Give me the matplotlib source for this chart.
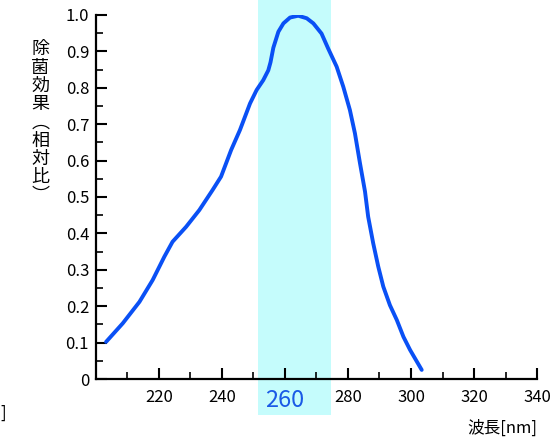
import matplotlib
matplotlib.use("Agg")
import matplotlib.pyplot as plt
from matplotlib.patches import Rectangle
from matplotlib.ticker import MultipleLocator, FuncFormatter

plt.rcParams['font.family'] = ['Noto Sans CJK JP', 'DejaVu Sans']

# curve
wavelength = [203.2, 208.5, 213.8, 218.0, 221.7, 224.3, 228.6, 232.8, 237.0, 239.7, 242.9,
              245.7, 248.9, 251.0, 253.1, 254.7, 255.4, 256.3, 257.9, 259.5, 261.6, 264.2,
              266.9, 269.0, 271.6, 273.7, 276.4, 278.5, 280.6, 282.2, 283.8, 285.4, 286.4,
              288.0, 289.6, 291.2, 293.3, 295.5, 297.6, 299.7, 303.4]
efficacy = [0.102, 0.153, 0.212, 0.272, 0.336, 0.377, 0.418, 0.464, 0.519, 0.556, 0.629,
            0.684, 0.757, 0.794, 0.821, 0.848, 0.870, 0.910, 0.954, 0.977, 0.993, 0.998,
            0.991, 0.977, 0.949, 0.908, 0.858, 0.803, 0.739, 0.675, 0.593, 0.515, 0.446,
            0.373, 0.309, 0.254, 0.203, 0.162, 0.116, 0.080, 0.025]
span_lo, span_hi = 251.3, 274.6
xticks = [220, 240, 260, 280, 300, 320, 340]
yticks = [0, 0.1, 0.2, 0.3, 0.4, 0.5, 0.6, 0.7, 0.8, 0.9, 1.0]

fig = plt.figure(figsize=(5.51, 4.37), dpi=100)
ax = fig.add_axes([0.1742, 0.1327, 0.8004, 0.833])

# highlighted band, runs past the axes
band = Rectangle((span_lo, -0.1), span_hi - span_lo, 1.15,
                 transform=ax.get_xaxis_transform(), facecolor='#c5fcfc',
                 edgecolor='none', clip_on=False, zorder=0)
ax.add_patch(band)

ax.plot(wavelength, efficacy, color='#0a50f5', lw=2.8, solid_capstyle='round',
        solid_joinstyle='round', zorder=3)

ax.set_xlim(200, 340)
ax.set_ylim(0, 1.0)
for s in ['top', 'right']:
    ax.spines[s].set_visible(False)
for s in ['left', 'bottom']:
    ax.spines[s].set_linewidth(1.6)
    ax.spines[s].set_zorder(4)

ax.xaxis.set_minor_locator(MultipleLocator(10))
ax.yaxis.set_minor_locator(MultipleLocator(0.05))
ax.set_xticks(xticks)
ax.set_yticks(yticks)
ax.yaxis.set_major_formatter(FuncFormatter(lambda v, p: '0' if v == 0 else '%.1f' % v))
ax.tick_params(which='major', direction='in', length=8, width=1.5, labelsize=12, colors='black')
ax.tick_params(which='minor', direction='in', length=5, width=1.2)
ax.tick_params(axis='y', pad=5)
ax.tick_params(axis='x', pad=7)

for lab in ax.get_xticklabels():
    if lab.get_text() == '260':
        lab.set_color('#1a5ae6')
        lab.set_fontsize(17)

ylabel = '\n'.join(['除', '菌', '効', '果', '︵', '相', '対', '比', '︶'])
fig.text(0.073, 0.72, ylabel, ha='center', va='center', fontsize=13, linespacing=1.02)
fig.text(0.975, 0.02, '波長[nm]', ha='right', va='center', fontsize=12)
fig.text(0.0, 0.055, ']', ha='left', va='center', fontsize=12)

fig.savefig('out.png', dpi=100)
